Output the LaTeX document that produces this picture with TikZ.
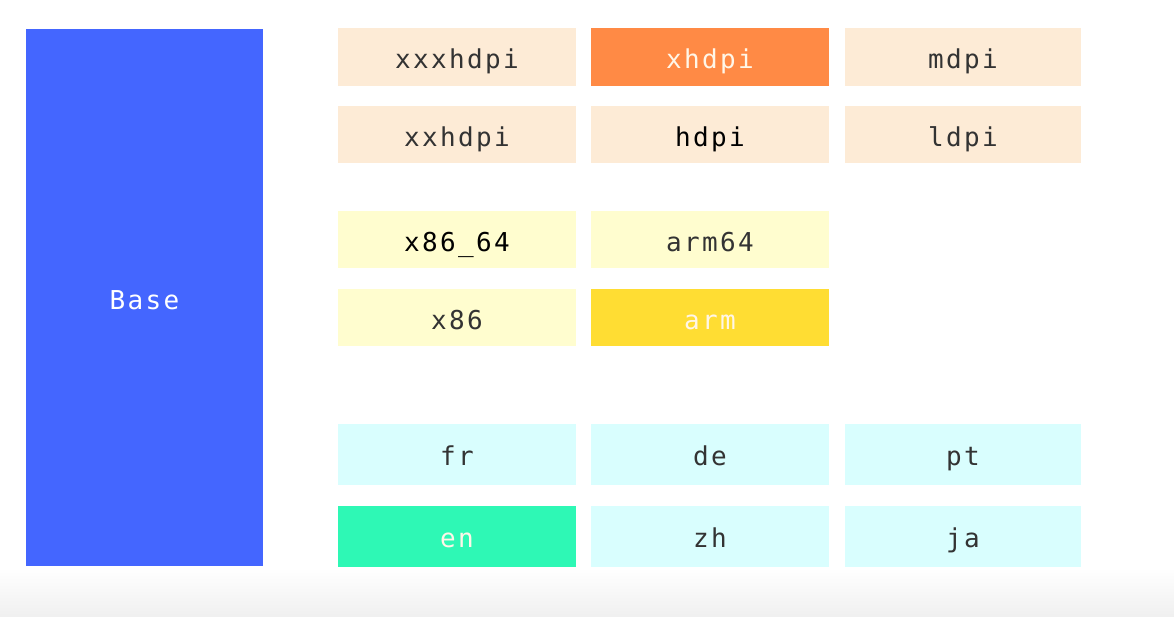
\documentclass[tikz,border=0pt]{standalone}
\usepackage{fontspec}
\newfontfamily\boxfont[LetterSpace=9]{DejaVu Sans Mono}
\definecolor{peach}{HTML}{FDEBD6}
\definecolor{orng}{HTML}{FF8A45}
\definecolor{lyel}{HTML}{FFFDCF}
\definecolor{yel}{HTML}{FFDD33}
\definecolor{lcyan}{HTML}{D9FEFE}
\definecolor{grn}{HTML}{2EF8B5}
\definecolor{blu}{HTML}{4466FF}
\definecolor{txt}{HTML}{333333}
\definecolor{hitxt}{HTML}{FFF6E8}
\tikzset{
  cell/.style={draw=none, minimum width=238pt, minimum height=58pt, inner sep=0pt,
    text height=27pt, text depth=4pt, font=\boxfont\fontsize{26pt}{30pt}\selectfont, text=txt},
  tall/.style={minimum height=61pt},
  hi/.style={text=hitxt}
}
\begin{document}
\begin{tikzpicture}[x=1pt,y=1pt]
\useasboundingbox (0,0) rectangle (1174,-616);
\fill[white] (0,0) rectangle (1174,-616);
\shade[top color=white, bottom color=black!6] (0,-568) rectangle (1174,-616);
% Base
\node[cell, fill=blu, minimum width=237pt, minimum height=537pt, text=white] (base) at (144.5,-297.5) {Base};
% densities
\node[cell, fill=peach] (xxxhdpi) at (457,-57) {xxxhdpi};
\node[cell, fill=orng, hi] (xhdpi) at (710,-57) {xhdpi};
\node[cell, fill=peach, minimum width=236pt] (mdpi) at (963,-57) {mdpi};
\node[cell, fill=peach, minimum height=57pt] (xxhdpi) at (457,-134.5) {xxhdpi};
\node[cell, fill=peach, minimum height=57pt, text=black] (hdpi) at (710,-134.5) {hdpi};
\node[cell, fill=peach, minimum height=57pt, minimum width=236pt] (ldpi) at (963,-134.5) {ldpi};
% abis
\node[cell, fill=lyel, minimum height=57pt, text=black] (x8664) at (457,-239.5) {x86\_64};
\node[cell, fill=lyel, minimum height=57pt] (arm64) at (710,-239.5) {arm64};
\node[cell, fill=lyel, minimum height=57pt] (x86) at (457,-317.5) {x86};
\node[cell, fill=yel, minimum height=57pt, hi] (arm) at (710,-317.5) {arm};
% languages
\node[cell, tall, fill=lcyan] (fr) at (457,-454) {fr};
\node[cell, tall, fill=lcyan] (de) at (710,-454) {de};
\node[cell, tall, fill=lcyan, minimum width=236pt] (pt) at (963,-454) {pt};
\node[cell, tall, fill=grn, hi] (en) at (457,-536) {en};
\node[cell, tall, fill=lcyan] (zh) at (710,-536) {zh};
\node[cell, tall, fill=lcyan, minimum width=236pt] (ja) at (963,-536) {ja};
\end{tikzpicture}
\end{document}
